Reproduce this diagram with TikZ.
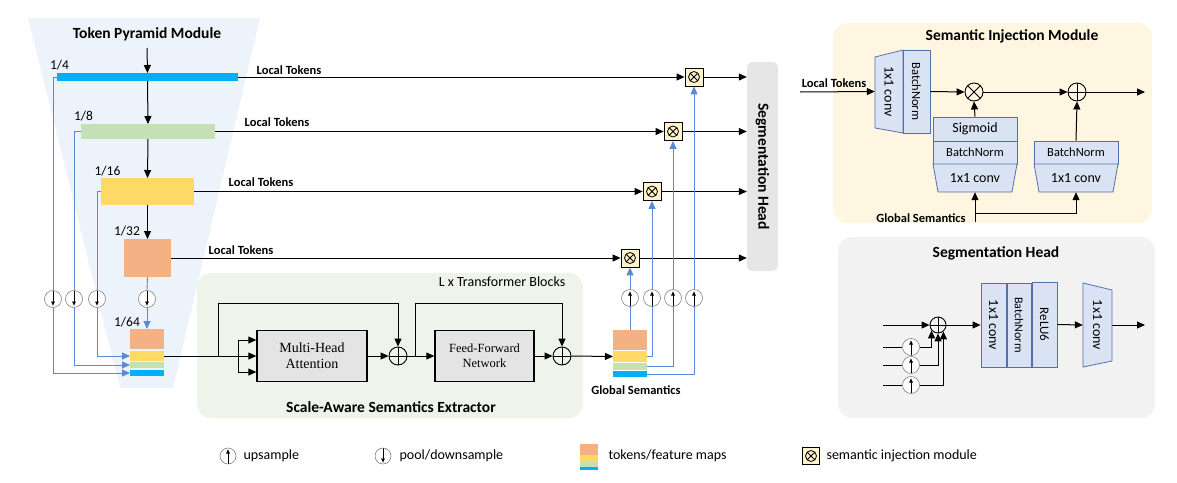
\documentclass[tikz,border=0pt]{standalone}
\usepackage{fontspec}
\usepackage{graphicx}
\setmainfont{Carlito}
\newfontfamily\blockfont{Liberation Serif}
\usetikzlibrary{arrows.meta,positioning,shapes.geometric}

\definecolor{tokblue}{RGB}{0,176,240}
\definecolor{tokgreen}{RGB}{197,224,180}
\definecolor{tokyellow}{RGB}{255,217,102}
\definecolor{tokorange}{RGB}{244,177,131}
\definecolor{linkblue}{RGB}{91,137,214}
\definecolor{convfill}{RGB}{218,227,243}
\definecolor{convedge}{RGB}{84,112,170}
\definecolor{simfill}{RGB}{255,242,204}
\definecolor{headgray}{RGB}{231,230,230}
\definecolor{pyrbg}{RGB}{237,243,251}
\definecolor{extbg}{RGB}{238,244,233}
\definecolor{simbg}{RGB}{255,246,226}
\definecolor{headbg}{RGB}{242,242,242}
\definecolor{boxgray}{RGB}{228,228,228}

\begin{document}
\begin{tikzpicture}[x=1pt,y=-1pt,
    tok/.style={inner sep=0pt,outer sep=0pt},
    arr/.style={-{Triangle[length=8pt,width=7pt]},line width=1pt},
    lnk/.style={line width=0.9pt,linkblue},
    lnkarr/.style={lnk,-{Triangle[length=8pt,width=7pt]}},
    lbl/.style={font=\fontsize{12.5}{14}\selectfont\bfseries},
    frac/.style={font=\fontsize{13.5}{15}\selectfont},
    title/.style={font=\fontsize{15.5}{18}\selectfont\bfseries},
    plain/.style={font=\fontsize{14}{16}\selectfont},
    panel/.style={rounded corners=14pt,inner sep=0pt},
    sampler/.style={circle,draw=gray,fill=white,minimum size=17pt,inner sep=0pt,line width=0.6pt},
    upsmp/.style={sampler,path picture={\draw[black,line width=0.7pt,-{Latex[length=4.5pt,width=4pt]}]
        ([yshift=-8pt]path picture bounding box.center) -- ([yshift=7pt]path picture bounding box.center);}},
    dnsmp/.style={sampler,path picture={\draw[black,line width=0.7pt,-{Latex[length=4.5pt,width=4pt]}]
        ([yshift=8pt]path picture bounding box.center) -- ([yshift=-7pt]path picture bounding box.center);}},
    simbox/.style={draw,fill=simfill,minimum size=18pt,inner sep=0pt,line width=0.8pt,
        path picture={\draw[line width=0.8pt] (path picture bounding box.center) circle (5.5pt)
        ([shift={(-3.9pt,-3.9pt)}]path picture bounding box.center) -- ([shift={(3.9pt,3.9pt)}]path picture bounding box.center)
        ([shift={(-3.9pt,3.9pt)}]path picture bounding box.center) -- ([shift={(3.9pt,-3.9pt)}]path picture bounding box.center);}},
    addop/.style={circle,draw,line width=0.9pt,minimum size=18pt,inner sep=0pt,
        path picture={\draw[line width=0.9pt] (path picture bounding box.north) -- (path picture bounding box.south)
        (path picture bounding box.west) -- (path picture bounding box.east);}},
    mulop/.style={circle,draw,line width=0.9pt,minimum size=18pt,inner sep=0pt,
        path picture={\draw[line width=0.9pt] (path picture bounding box.north west) -- (path picture bounding box.south east)
        (path picture bounding box.south west) -- (path picture bounding box.north east);}},
    tfblock/.style={draw,fill=boxgray,line width=1.3pt,inner sep=0pt,align=center},
    convbox/.style={draw=convedge,fill=convfill,line width=0.8pt},
    convtxt/.style={inner sep=0pt,align=center},
]
\useasboundingbox (0,0) rectangle (1177,482);

% backgrounds
\fill[pyrbg] (28,18) -- (260,18) -- (173,388) -- (120,388) -- cycle;
\node[panel,fill=extbg,minimum width=386pt,minimum height=145pt] (ext) at (390,345.5) {};
\node[panel,fill=simbg,minimum width=319pt,minimum height=200pt] (simp) at (992.5,123) {};
\node[panel,fill=headbg,minimum width=317pt,minimum height=181pt] (headp) at (996.5,327.5) {};

% token pyramid
\node[title] (tpm) at (147,34) {Token Pyramid Module};
\coordinate (tin) at (147,48);
\node[tok,fill=tokblue,minimum width=181pt,minimum height=8pt] (bar1) at (147.5,77) {};
\node[tok,fill=tokgreen,minimum width=134pt,minimum height=15pt] (bar2) at (148,131.5) {};
\node[tok,fill=tokyellow,minimum width=93pt,minimum height=27pt] (bar3) at (147.5,191.5) {};
\node[tok,fill=tokorange,minimum width=47pt,minimum height=38pt] (bar4) at (147.5,258) {};
\node[frac] (f4) at (59.5,65) {1/4};
\node[frac] (f8) at (83.5,116) {1/8};
\node[frac] (f16) at (107.5,171) {1/16};
\node[frac] (f32) at (127,231) {1/32};
\node[frac] (f64) at (127,322) {1/64};
\draw[arr] (tin) -- (bar1.north);
\draw[arr] (bar1.south) -- (bar2.north);
\draw[arr] (bar2.south) -- (bar3.north);
\draw[arr] (bar3.south) -- (bar4.north);

% 1/64 stack
\node[tok,fill=tokorange,minimum width=34pt,minimum height=20pt] (s64o) at (147,339) {};
\node[tok,fill=tokyellow,minimum width=34pt,minimum height=10pt] (s64y) at (147,356) {};
\node[tok,fill=tokgreen,minimum width=34pt,minimum height=6pt] (s64g) at (147,365) {};
\node[tok,fill=tokblue,minimum width=34pt,minimum height=6pt] (s64c) at (147,373) {};

% pooling to 1/64
\node[dnsmp] (dn1) at (53,299) {};
\node[dnsmp] (dn2) at (74,299) {};
\node[dnsmp] (dn3) at (97,299) {};
\node[dnsmp] (dn4) at (147,299) {};
\draw[lnk] (bar1.west) -| (dn1.north);
\draw[lnkarr] (dn1.south) |- (s64c.west);
\draw[lnk] (bar2.west) -| (dn2.north);
\draw[lnkarr] (dn2.south) |- (s64g.west);
\draw[lnk] (bar3.west) -| (dn3.north);
\draw[lnkarr] (dn3.south) |- (s64y.west);
\draw[lnk] (bar4.south) -- (dn4.north);
\draw[lnkarr] (dn4.south) -- (s64o.north);

% semantic injection modules and head
\node[simbox] (sim1) at (694,77) {};
\node[simbox] (sim2) at (673,131.5) {};
\node[simbox] (sim3) at (652,191.5) {};
\node[simbox] (sim4) at (630,258) {};
\node[fill=headgray,rounded corners=5pt,minimum width=31pt,minimum height=209pt,inner sep=0pt] (segh) at (762.5,166.5) {};
\node[title] (seghtxt) at (segh.center) {\rotatebox{-90}{Segmentation Head}};
\node[lbl] (lt1) at (289,70) {Local Tokens};
\node[lbl] (lt2) at (277,122) {Local Tokens};
\node[lbl] (lt3) at (261,182) {Local Tokens};
\node[lbl] (lt4) at (241,250) {Local Tokens};
\draw[arr] (bar1.east) -- (sim1.west);
\draw[arr] (bar2.east) -- (sim2.west);
\draw[arr] (bar3.east) -- (sim3.west);
\draw[arr] (bar4.east) -- (sim4.west);
\draw[arr] (sim1.east) -- (sim1.east -| segh.west);
\draw[arr] (sim2.east) -- (sim2.east -| segh.west);
\draw[arr] (sim3.east) -- (sim3.east -| segh.west);
\draw[arr] (sim4.east) -- (sim4.east -| segh.west);

% scale-aware semantics extractor
\node[plain] (lxt) at (502,282) {L x Transformer Blocks};
\node[title] (sase) at (391,407) {Scale-Aware Semantics Extractor};
\node[tfblock,minimum width=110pt,minimum height=51pt,font=\blockfont\fontsize{14}{16}\selectfont] (mha) at (312,356) {Multi-Head\\Attention};
\node[tfblock,minimum width=99pt,minimum height=51pt,font=\blockfont\fontsize{12.5}{15}\selectfont] (ffn) at (484.5,356) {Feed-Forward\\Network};
\node[addop] (add1) at (398,356) {};
\node[addop] (add2) at (562,356) {};
\coordinate (br1) at (218,356);
\coordinate (skip1) at (218,303);
\coordinate (fork) at (238,356);
\coordinate (br2) at (415,356);
\coordinate (skip2) at (415,303);
\draw[line width=1pt] (s64y.east) -- (br1);
\draw[arr] (br1) -- (mha.west);
\draw[arr] (br1) -- (skip1) -| (add1.north);
\draw[arr] (fork) |- ([yshift=16pt]mha.west);
\draw[arr] (fork) |- ([yshift=-16pt]mha.west);
\draw[arr] (mha.east) -- (add1.west);
\draw[line width=1pt] (add1.east) -- (br2);
\draw[arr] (br2) -- (ffn.west);
\draw[arr] (br2) -- (skip2) -| (add2.north);
\draw[arr] (ffn.east) -- (add2.west);

% global semantics stack
\node[tok,fill=tokorange,minimum width=34pt,minimum height=20pt] (g64o) at (630,340) {};
\node[tok,fill=tokyellow,minimum width=34pt,minimum height=11pt] (g64y) at (630,356.5) {};
\node[tok,fill=tokgreen,minimum width=34pt,minimum height=7pt] (g64g) at (630,366.5) {};
\node[tok,fill=tokblue,minimum width=34pt,minimum height=6pt] (g64c) at (630,374) {};
\node[lbl] (gs) at (636,390) {Global Semantics};
\draw[arr] (add2.east) -- (g64y.west);

% upsampling to injection modules
\node[upsmp] (up4) at (630,298) {};
\node[upsmp] (up3) at (652,298) {};
\node[upsmp] (up2) at (673,298) {};
\node[upsmp] (up1) at (694,298) {};
\draw[lnk] (g64o.north) -- (up4.south);
\draw[lnk] (g64y.east) -| (up3.south);
\draw[lnk] (g64g.east) -| (up2.south);
\draw[lnk] (g64c.east) -| (up1.south);
\draw[lnkarr] (up4.north) -- (sim4.south);
\draw[lnkarr] (up3.north) -- (sim3.south);
\draw[lnkarr] (up2.north) -- (sim2.south);
\draw[lnkarr] (up1.north) -- (sim1.south);

% semantic injection module detail
\node[title] (simt) at (1012,36) {Semantic Injection Module};
\node[lbl] (simlt) at (834,83) {Local Tokens};
\coordinate (simin) at (800,92);
\draw[convbox] (875,57) -- (903,50) -- (903,133) -- (875,128) -- cycle;
\node[convtxt,minimum width=28pt,minimum height=71pt,font=\fontsize{14}{16}\selectfont] (sconv) at (889,91.5) {\rotatebox{-90}{1x1 conv}};
\node[convbox,minimum width=27pt,minimum height=83pt,inner sep=0pt,font=\fontsize{12.5}{14}\selectfont] (sbn) at (916.5,91.5) {\rotatebox{-90}{BatchNorm}};
\node[mulop] (smul) at (974,92) {};
\node[addop] (sadd) at (1077,92) {};
\coordinate (simout) at (1145,92);
\draw[arr] (simin) -- (sconv.west);
\draw[arr] (sbn.east) -- (smul.west);
\draw[arr] (smul.east) -- (sadd.west);
\draw[arr] (sadd.east) -- (simout);
\node[convbox,minimum width=84pt,minimum height=24pt,inner sep=0pt,font=\fontsize{14}{16}\selectfont] (ssig) at (975,129) {Sigmoid};
\node[convbox,minimum width=84pt,minimum height=23pt,inner sep=0pt,font=\fontsize{12.5}{14}\selectfont] (sbn2) at (975,152.5) {BatchNorm};
\draw[convbox] (933,164) -- (1017,164) -- (1012,192) -- (938,192) -- cycle;
\node[convtxt,minimum width=84pt,minimum height=28pt,font=\fontsize{14}{16}\selectfont] (sconv2) at (975,178) {1x1 conv};
\node[convbox,minimum width=84pt,minimum height=23pt,inner sep=0pt,font=\fontsize{12.5}{14}\selectfont] (sbn3) at (1076,152.5) {BatchNorm};
\draw[convbox] (1034,164) -- (1118,164) -- (1113,192) -- (1039,192) -- cycle;
\node[convtxt,minimum width=84pt,minimum height=28pt,font=\fontsize{14}{16}\selectfont] (sconv3) at (1076,178) {1x1 conv};
\draw[arr] (ssig.north) -- (smul.south);
\draw[arr] (sbn3.north) -- (sadd.south);
\node[lbl] (simgs) at (921,218) {Global Semantics};
\coordinate (gsin) at (975,222);
\coordinate (gsbr) at (975,213);
\draw[arr] (gsin) -- (sconv2.south);
\draw[arr] (gsbr) -| (sconv3.south);

% segmentation head detail
\node[title] (headt) at (996,253) {Segmentation Head};
\node[addop,minimum size=16pt] (hsum) at (938,325) {};
\coordinate (hin0) at (883,325);
\coordinate (hin1) at (883,347);
\coordinate (hin2) at (883,365);
\coordinate (hin3) at (883,385);
\node[upsmp] (hu1) at (911,347) {};
\node[upsmp] (hu2) at (911,365) {};
\node[upsmp] (hu3) at (911,385) {};
\draw[arr] (hin0) -- (hsum.west);
\draw[line width=1pt] (hin1) -- (hu1.west);
\draw[line width=1pt] (hin2) -- (hu2.west);
\draw[line width=1pt] (hin3) -- (hu3.west);
\draw[arr] (hu1.east) -| (hsum.220);
\draw[arr] (hu2.east) -| (hsum.south);
\draw[arr] (hu3.east) -| (hsum.-50);
\node[convbox,minimum width=25pt,minimum height=84pt,inner sep=0pt,font=\fontsize{14}{16}\selectfont] (hc1) at (993.5,325) {\rotatebox{-90}{1x1 conv}};
\node[convbox,minimum width=24pt,minimum height=84pt,inner sep=0pt,font=\fontsize{12}{14}\selectfont] (hbn) at (1019,325) {\rotatebox{-90}{BatchNorm}};
\node[convbox,minimum width=25pt,minimum height=85pt,inner sep=0pt,font=\fontsize{13}{14}\selectfont] (hrelu) at (1044.5,324.5) {\rotatebox{-90}{ReLU6}};
\draw[convbox] (1083,283) -- (1112,290) -- (1112,361) -- (1083,367) -- cycle;
\node[convtxt,minimum width=29pt,minimum height=84pt,font=\fontsize{14}{16}\selectfont] (hc2) at (1097.5,325) {\rotatebox{-90}{1x1 conv}};
\coordinate (hout) at (1145,325);
\draw[arr] (hsum.east) -- (hc1.west);
\draw[arr] (hrelu.east) -- (hc2.west);
\draw[arr] (hc2.east) -- (hout);

% legend
\node[upsmp,minimum size=16pt] (lgup) at (228,456) {};
\node[plain,anchor=west] (lgupt) at (240,456) {upsample};
\node[dnsmp,minimum size=16pt] (lgdn) at (383,456) {};
\node[plain,anchor=west] (lgdnt) at (396,456) {pool/downsample};
\node[tok,fill=tokorange,minimum width=18pt,minimum height=11pt] (lgo) at (589,449.5) {};
\node[tok,fill=tokyellow,minimum width=18pt,minimum height=7pt] (lgy) at (589,458.5) {};
\node[tok,fill=tokgreen,minimum width=18pt,minimum height=5pt] (lgg) at (589,464.5) {};
\node[tok,fill=tokblue,minimum width=18pt,minimum height=3pt] (lgc) at (589,468.5) {};
\node[plain,anchor=west] (lgtokt) at (605,456) {tokens/feature maps};
\node[simbox,minimum size=17pt] (lgsim) at (811,456) {};
\node[plain,anchor=west] (lgsimt) at (823,456) {semantic injection module};
\end{tikzpicture}
\end{document}
